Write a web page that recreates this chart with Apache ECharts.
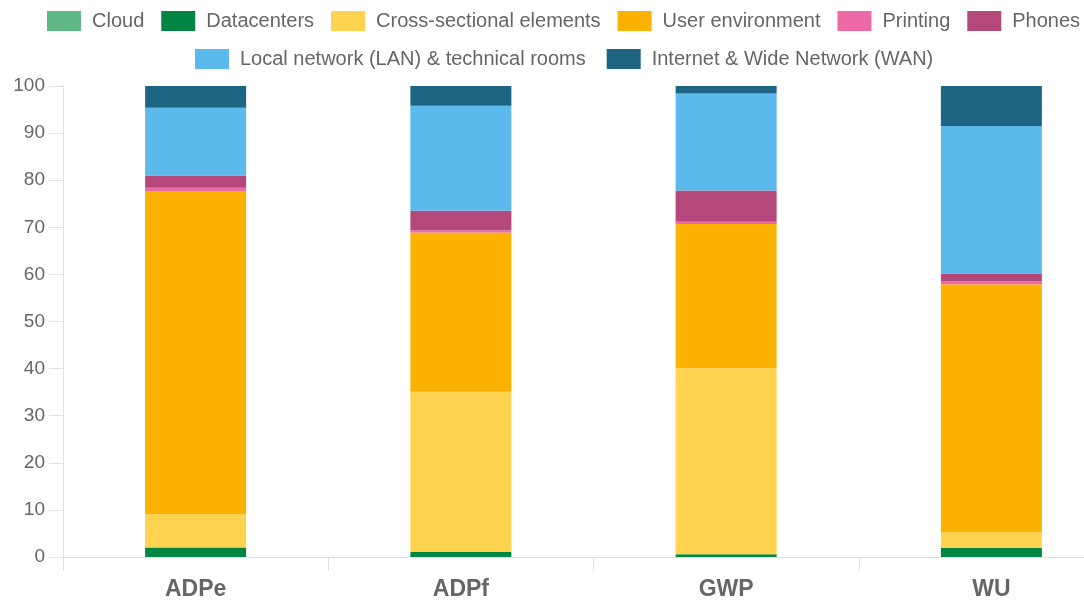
<!DOCTYPE html>
<html>
<head>
<meta charset="utf-8">
<script src="https://cdn.jsdelivr.net/npm/echarts@6/dist/echarts.min.js"></script>
<style>html,body{margin:0;padding:0;background:#fff;}#c{width:1084px;height:601px;}</style>
</head>
<body>
<div id="c"></div>
<script>
var categories = ['ADPe', 'ADPf', 'GWP', 'WU'];
var seriesNames = ['Cloud', 'Datacenters', 'Cross-sectional elements', 'User environment', 'Printing', 'Phones', 'Local network (LAN) & technical rooms', 'Internet & Wide Network (WAN)'];
var cloud = [0, 0, 0, 0];
var datacenters = [2.0, 1.1, 0.6, 1.9];
var crossSectional = [7.1, 34.0, 39.5, 3.3];
var userEnv = [68.5, 33.8, 30.6, 52.7];
var printing = [0.8, 0.5, 0.5, 0.6];
var phones = [2.6, 4.1, 6.6, 1.7];
var lan = [14.4, 22.3, 20.6, 31.3];
var wan = [4.6, 4.2, 1.6, 8.5];
var yTicks = [0, 10, 20, 30, 40, 50, 60, 70, 80, 90, 100];
var colors = ['#5fb785', '#008542', '#fdd34f', '#fbb203', '#ee6aa7', '#b5487b', '#5bb9ec', '#1e6584'];
var values = [cloud, datacenters, crossSectional, userEnv, printing, phones, lan, wan];

var chart = echarts.init(document.getElementById('c'), null, {renderer: 'canvas'});
var series = seriesNames.map(function (n, i) {
  return {
    name: n, type: 'bar', stack: 'total', data: values[i],
    barWidth: 101,
    itemStyle: {color: colors[i]},
    emphasis: {disabled: true}
  };
});
var ff = 'Liberation Sans, Arial, sans-serif';
var legendText = {fontSize: 20, color: '#666', fontFamily: ff, padding: [0, 0, 0, 6]};
chart.setOption({
  animation: false,
  color: colors,
  legend: [
    {data: seriesNames.slice(0, 6), left: 42, top: 6, width: 1200, itemWidth: 34, itemHeight: 20, itemGap: 17, textStyle: legendText, icon: 'rect'},
    {data: seriesNames.slice(6), left: 190, top: 44, width: 1000, itemWidth: 34, itemHeight: 20, itemGap: 21, textStyle: legendText, icon: 'rect'}
  ],
  grid: {left: 63, top: 86, bottom: 44, width: 1061, containLabel: false, outerBoundsMode: 'none'},
  xAxis: {
    type: 'category', data: categories,
    axisLine: {lineStyle: {color: '#e0e0e0', width: 1}},
    axisTick: {show: true, length: 14, lineStyle: {color: '#e0e0e0'}},
    axisLabel: {fontSize: 23, fontWeight: 'bold', color: '#666', margin: 21, fontFamily: ff},
    splitLine: {show: false}
  },
  yAxis: {
    type: 'value', min: 0, max: 100, interval: 10,
    axisLine: {show: true, lineStyle: {color: '#e0e0e0'}},
    axisTick: {show: true, length: 14, lineStyle: {color: '#e0e0e0'}},
    axisLabel: {fontSize: 19, color: '#666', margin: 18, fontFamily: ff,
      formatter: function (v) { return yTicks.indexOf(v) >= 0 ? String(v) : ''; }},
    splitLine: {show: false}
  },
  series: series
});
</script>
</body>
</html>
